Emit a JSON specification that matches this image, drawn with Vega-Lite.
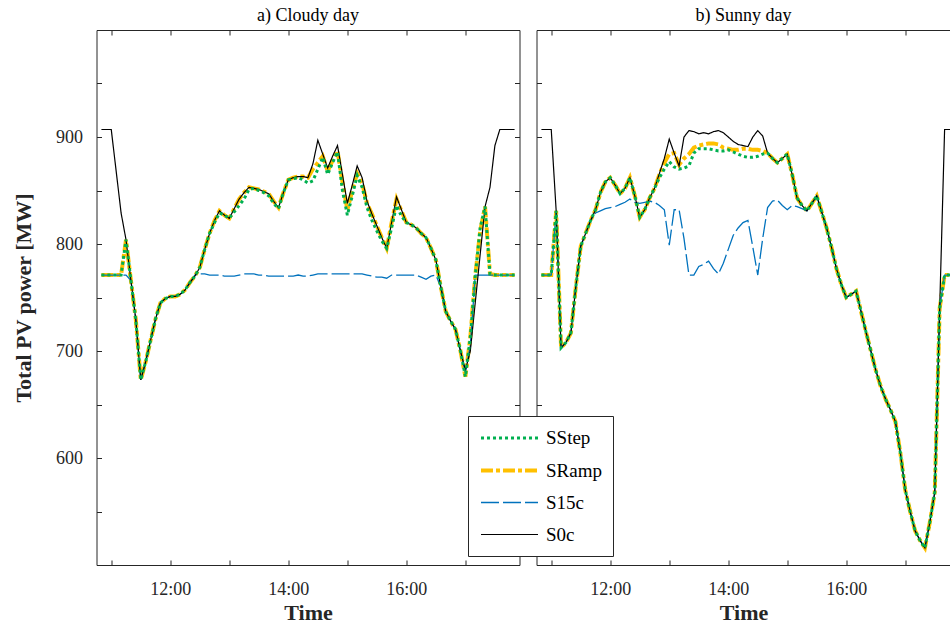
{
  "$schema": "https://vega.github.io/schema/vega-lite/v6.json",
  "padding": {"left": 12.5, "top": 6, "right": 0, "bottom": 0},
  "config": {
    "font": "Liberation Serif",
    "view": {"stroke": null},
    "axis": {
      "grid": false,
      "domainColor": "#262626",
      "tickColor": "#262626",
      "labelColor": "#262626",
      "titleColor": "#262626",
      "labelFont": "Liberation Serif",
      "labelFontSize": 18,
      "titleFont": "Liberation Serif",
      "titleFontSize": 22,
      "titleFontWeight": "bold",
      "tickSize": 5,
      "tickWidth": 1,
      "domainWidth": 1
    },
    "title": {"font": "Liberation Serif", "fontSize": 18, "fontWeight": "normal", "color": "#000000"}
  },
  "data": {
    "format": {"parse": {"t": "date:'%H:%M'"}},
    "values": [
      {"d":"a","t":"10:50","SStep":771,"SRamp":771,"S15c":771,"S0c":907},
      {"d":"a","t":"10:55","SStep":771,"SRamp":771,"S15c":771,"S0c":907},
      {"d":"a","t":"11:00","SStep":771,"SRamp":771,"S15c":771,"S0c":907},
      {"d":"a","t":"11:05","SStep":771,"SRamp":771,"S15c":771,"S0c":868},
      {"d":"a","t":"11:10","SStep":771,"SRamp":771,"S15c":771,"S0c":829},
      {"d":"a","t":"11:15","SStep":804,"SRamp":804,"S15c":771,"S0c":804},
      {"d":"a","t":"11:20","SStep":766,"SRamp":766,"S15c":766,"S0c":766},
      {"d":"a","t":"11:25","SStep":729,"SRamp":729,"S15c":729,"S0c":729},
      {"d":"a","t":"11:30","SStep":673,"SRamp":673,"S15c":673,"S0c":673},
      {"d":"a","t":"11:35","SStep":690,"SRamp":690,"S15c":690,"S0c":690},
      {"d":"a","t":"11:40","SStep":710,"SRamp":710,"S15c":710,"S0c":710},
      {"d":"a","t":"11:45","SStep":730,"SRamp":730,"S15c":730,"S0c":730},
      {"d":"a","t":"11:50","SStep":745,"SRamp":745,"S15c":745,"S0c":745},
      {"d":"a","t":"11:55","SStep":749,"SRamp":749,"S15c":749,"S0c":749},
      {"d":"a","t":"12:00","SStep":751,"SRamp":751,"S15c":751,"S0c":751},
      {"d":"a","t":"12:05","SStep":751,"SRamp":751,"S15c":751,"S0c":751},
      {"d":"a","t":"12:10","SStep":753,"SRamp":753,"S15c":753,"S0c":753},
      {"d":"a","t":"12:15","SStep":757,"SRamp":757,"S15c":757,"S0c":757},
      {"d":"a","t":"12:20","SStep":764,"SRamp":764,"S15c":764,"S0c":764},
      {"d":"a","t":"12:25","SStep":770,"SRamp":770,"S15c":771,"S0c":770},
      {"d":"a","t":"12:30","SStep":778,"SRamp":778,"S15c":772,"S0c":778},
      {"d":"a","t":"12:35","SStep":795,"SRamp":795,"S15c":772,"S0c":795},
      {"d":"a","t":"12:40","SStep":810,"SRamp":810,"S15c":771,"S0c":810},
      {"d":"a","t":"12:45","SStep":820,"SRamp":822,"S15c":771,"S0c":822},
      {"d":"a","t":"12:50","SStep":829,"SRamp":831,"S15c":771,"S0c":831},
      {"d":"a","t":"12:55","SStep":827,"SRamp":827,"S15c":770,"S0c":827},
      {"d":"a","t":"13:00","SStep":824,"SRamp":824,"S15c":770,"S0c":824},
      {"d":"a","t":"13:05","SStep":830,"SRamp":833,"S15c":770,"S0c":833},
      {"d":"a","t":"13:10","SStep":836,"SRamp":842,"S15c":771,"S0c":842},
      {"d":"a","t":"13:15","SStep":842,"SRamp":848,"S15c":772,"S0c":848},
      {"d":"a","t":"13:20","SStep":851,"SRamp":853,"S15c":772,"S0c":853},
      {"d":"a","t":"13:25","SStep":852,"SRamp":852,"S15c":772,"S0c":852},
      {"d":"a","t":"13:30","SStep":850,"SRamp":851,"S15c":771,"S0c":851},
      {"d":"a","t":"13:35","SStep":848,"SRamp":849,"S15c":771,"S0c":849},
      {"d":"a","t":"13:40","SStep":845,"SRamp":847,"S15c":770,"S0c":847},
      {"d":"a","t":"13:45","SStep":838,"SRamp":840,"S15c":770,"S0c":840},
      {"d":"a","t":"13:50","SStep":833,"SRamp":834,"S15c":770,"S0c":834},
      {"d":"a","t":"13:55","SStep":848,"SRamp":848,"S15c":770,"S0c":848},
      {"d":"a","t":"14:00","SStep":860,"SRamp":860,"S15c":770,"S0c":860},
      {"d":"a","t":"14:05","SStep":861,"SRamp":862,"S15c":770,"S0c":862},
      {"d":"a","t":"14:10","SStep":862,"SRamp":863,"S15c":771,"S0c":863},
      {"d":"a","t":"14:15","SStep":860,"SRamp":863,"S15c":770,"S0c":863},
      {"d":"a","t":"14:20","SStep":857,"SRamp":862,"S15c":770,"S0c":862},
      {"d":"a","t":"14:25","SStep":859,"SRamp":870,"S15c":771,"S0c":875},
      {"d":"a","t":"14:30","SStep":870,"SRamp":876,"S15c":772,"S0c":897},
      {"d":"a","t":"14:35","SStep":881,"SRamp":882,"S15c":772,"S0c":884},
      {"d":"a","t":"14:40","SStep":865,"SRamp":868,"S15c":772,"S0c":871},
      {"d":"a","t":"14:45","SStep":876,"SRamp":878,"S15c":772,"S0c":882},
      {"d":"a","t":"14:50","SStep":886,"SRamp":887,"S15c":772,"S0c":892},
      {"d":"a","t":"14:55","SStep":850,"SRamp":858,"S15c":772,"S0c":865},
      {"d":"a","t":"15:00","SStep":827,"SRamp":832,"S15c":772,"S0c":838},
      {"d":"a","t":"15:05","SStep":845,"SRamp":850,"S15c":772,"S0c":855},
      {"d":"a","t":"15:10","SStep":864,"SRamp":866,"S15c":772,"S0c":873},
      {"d":"a","t":"15:15","SStep":853,"SRamp":857,"S15c":772,"S0c":862},
      {"d":"a","t":"15:20","SStep":834,"SRamp":838,"S15c":771,"S0c":840},
      {"d":"a","t":"15:25","SStep":822,"SRamp":828,"S15c":770,"S0c":828},
      {"d":"a","t":"15:30","SStep":812,"SRamp":817,"S15c":769,"S0c":817},
      {"d":"a","t":"15:35","SStep":803,"SRamp":806,"S15c":769,"S0c":806},
      {"d":"a","t":"15:40","SStep":796,"SRamp":796,"S15c":768,"S0c":796},
      {"d":"a","t":"15:45","SStep":815,"SRamp":820,"S15c":771,"S0c":820},
      {"d":"a","t":"15:50","SStep":836,"SRamp":842,"S15c":771,"S0c":844},
      {"d":"a","t":"15:55","SStep":826,"SRamp":831,"S15c":771,"S0c":832},
      {"d":"a","t":"16:00","SStep":820,"SRamp":820,"S15c":771,"S0c":820},
      {"d":"a","t":"16:05","SStep":818,"SRamp":818,"S15c":771,"S0c":818},
      {"d":"a","t":"16:10","SStep":815,"SRamp":815,"S15c":771,"S0c":815},
      {"d":"a","t":"16:15","SStep":810,"SRamp":810,"S15c":769,"S0c":810},
      {"d":"a","t":"16:20","SStep":806,"SRamp":806,"S15c":767,"S0c":806},
      {"d":"a","t":"16:25","SStep":796,"SRamp":796,"S15c":770,"S0c":796},
      {"d":"a","t":"16:30","SStep":785,"SRamp":785,"S15c":771,"S0c":785},
      {"d":"a","t":"16:35","SStep":760,"SRamp":760,"S15c":760,"S0c":760},
      {"d":"a","t":"16:40","SStep":737,"SRamp":737,"S15c":737,"S0c":737},
      {"d":"a","t":"16:45","SStep":728,"SRamp":728,"S15c":728,"S0c":728},
      {"d":"a","t":"16:50","SStep":720,"SRamp":720,"S15c":720,"S0c":720},
      {"d":"a","t":"16:55","SStep":700,"SRamp":700,"S15c":700,"S0c":700},
      {"d":"a","t":"17:00","SStep":676,"SRamp":676,"S15c":680,"S0c":682},
      {"d":"a","t":"17:05","SStep":713,"SRamp":713,"S15c":705,"S0c":700},
      {"d":"a","t":"17:10","SStep":770,"SRamp":770,"S15c":771,"S0c":745},
      {"d":"a","t":"17:15","SStep":815,"SRamp":812,"S15c":771,"S0c":790},
      {"d":"a","t":"17:20","SStep":835,"SRamp":835,"S15c":771,"S0c":835},
      {"d":"a","t":"17:25","SStep":772,"SRamp":772,"S15c":771,"S0c":853},
      {"d":"a","t":"17:30","SStep":771,"SRamp":771,"S15c":771,"S0c":892},
      {"d":"a","t":"17:35","SStep":771,"SRamp":771,"S15c":771,"S0c":907},
      {"d":"a","t":"17:40","SStep":771,"SRamp":771,"S15c":771,"S0c":907},
      {"d":"a","t":"17:45","SStep":771,"SRamp":771,"S15c":771,"S0c":907},
      {"d":"a","t":"17:50","SStep":771,"SRamp":771,"S15c":771,"S0c":907},
      {"d":"b","t":"10:50","SStep":771,"SRamp":771,"S15c":771,"S0c":907},
      {"d":"b","t":"10:55","SStep":771,"SRamp":771,"S15c":771,"S0c":907},
      {"d":"b","t":"11:00","SStep":771,"SRamp":771,"S15c":771,"S0c":907},
      {"d":"b","t":"11:05","SStep":831,"SRamp":831,"S15c":831,"S0c":831},
      {"d":"b","t":"11:10","SStep":703,"SRamp":703,"S15c":703,"S0c":703},
      {"d":"b","t":"11:15","SStep":708,"SRamp":708,"S15c":708,"S0c":708},
      {"d":"b","t":"11:20","SStep":717,"SRamp":717,"S15c":717,"S0c":717},
      {"d":"b","t":"11:25","SStep":760,"SRamp":760,"S15c":760,"S0c":760},
      {"d":"b","t":"11:30","SStep":798,"SRamp":798,"S15c":798,"S0c":798},
      {"d":"b","t":"11:35","SStep":810,"SRamp":810,"S15c":810,"S0c":810},
      {"d":"b","t":"11:40","SStep":822,"SRamp":822,"S15c":822,"S0c":822},
      {"d":"b","t":"11:45","SStep":832,"SRamp":832,"S15c":829,"S0c":832},
      {"d":"b","t":"11:50","SStep":848,"SRamp":848,"S15c":831,"S0c":848},
      {"d":"b","t":"11:55","SStep":858,"SRamp":858,"S15c":833,"S0c":858},
      {"d":"b","t":"12:00","SStep":862,"SRamp":862,"S15c":834,"S0c":862},
      {"d":"b","t":"12:05","SStep":855,"SRamp":855,"S15c":835,"S0c":855},
      {"d":"b","t":"12:10","SStep":847,"SRamp":847,"S15c":837,"S0c":847},
      {"d":"b","t":"12:15","SStep":852,"SRamp":852,"S15c":839,"S0c":852},
      {"d":"b","t":"12:20","SStep":862,"SRamp":862,"S15c":842,"S0c":862},
      {"d":"b","t":"12:25","SStep":845,"SRamp":845,"S15c":839,"S0c":845},
      {"d":"b","t":"12:30","SStep":825,"SRamp":825,"S15c":838,"S0c":825},
      {"d":"b","t":"12:35","SStep":832,"SRamp":832,"S15c":839,"S0c":832},
      {"d":"b","t":"12:40","SStep":843,"SRamp":843,"S15c":840,"S0c":843},
      {"d":"b","t":"12:45","SStep":852,"SRamp":852,"S15c":839,"S0c":852},
      {"d":"b","t":"12:50","SStep":862,"SRamp":865,"S15c":836,"S0c":866},
      {"d":"b","t":"12:55","SStep":870,"SRamp":876,"S15c":832,"S0c":880},
      {"d":"b","t":"13:00","SStep":877,"SRamp":884,"S15c":799,"S0c":898},
      {"d":"b","t":"13:05","SStep":872,"SRamp":885,"S15c":832,"S0c":885},
      {"d":"b","t":"13:10","SStep":870,"SRamp":874,"S15c":832,"S0c":873},
      {"d":"b","t":"13:15","SStep":871,"SRamp":880,"S15c":805,"S0c":900},
      {"d":"b","t":"13:20","SStep":873,"SRamp":884,"S15c":771,"S0c":906},
      {"d":"b","t":"13:25","SStep":885,"SRamp":890,"S15c":771,"S0c":905},
      {"d":"b","t":"13:30","SStep":889,"SRamp":892,"S15c":779,"S0c":903},
      {"d":"b","t":"13:35","SStep":889,"SRamp":893,"S15c":781,"S0c":904},
      {"d":"b","t":"13:40","SStep":889,"SRamp":894,"S15c":784,"S0c":903},
      {"d":"b","t":"13:45","SStep":888,"SRamp":894,"S15c":777,"S0c":905},
      {"d":"b","t":"13:50","SStep":887,"SRamp":893,"S15c":772,"S0c":906},
      {"d":"b","t":"13:55","SStep":887,"SRamp":890,"S15c":782,"S0c":904},
      {"d":"b","t":"14:00","SStep":888,"SRamp":889,"S15c":795,"S0c":900},
      {"d":"b","t":"14:05","SStep":886,"SRamp":888,"S15c":808,"S0c":896},
      {"d":"b","t":"14:10","SStep":884,"SRamp":888,"S15c":815,"S0c":893},
      {"d":"b","t":"14:15","SStep":882,"SRamp":889,"S15c":820,"S0c":892},
      {"d":"b","t":"14:20","SStep":881,"SRamp":889,"S15c":822,"S0c":891},
      {"d":"b","t":"14:25","SStep":881,"SRamp":888,"S15c":797,"S0c":900},
      {"d":"b","t":"14:30","SStep":882,"SRamp":888,"S15c":771,"S0c":906},
      {"d":"b","t":"14:35","SStep":884,"SRamp":887,"S15c":805,"S0c":901},
      {"d":"b","t":"14:40","SStep":885,"SRamp":885,"S15c":834,"S0c":885},
      {"d":"b","t":"14:45","SStep":880,"SRamp":880,"S15c":840,"S0c":880},
      {"d":"b","t":"14:50","SStep":876,"SRamp":876,"S15c":841,"S0c":876},
      {"d":"b","t":"14:55","SStep":880,"SRamp":880,"S15c":836,"S0c":880},
      {"d":"b","t":"15:00","SStep":884,"SRamp":884,"S15c":832,"S0c":884},
      {"d":"b","t":"15:05","SStep":865,"SRamp":865,"S15c":836,"S0c":865},
      {"d":"b","t":"15:10","SStep":843,"SRamp":843,"S15c":835,"S0c":843},
      {"d":"b","t":"15:15","SStep":836,"SRamp":836,"S15c":833,"S0c":836},
      {"d":"b","t":"15:20","SStep":831,"SRamp":831,"S15c":831,"S0c":831},
      {"d":"b","t":"15:25","SStep":838,"SRamp":838,"S15c":838,"S0c":838},
      {"d":"b","t":"15:30","SStep":845,"SRamp":845,"S15c":845,"S0c":845},
      {"d":"b","t":"15:35","SStep":830,"SRamp":830,"S15c":830,"S0c":830},
      {"d":"b","t":"15:40","SStep":815,"SRamp":815,"S15c":815,"S0c":815},
      {"d":"b","t":"15:45","SStep":797,"SRamp":797,"S15c":797,"S0c":797},
      {"d":"b","t":"15:50","SStep":777,"SRamp":777,"S15c":777,"S0c":777},
      {"d":"b","t":"15:55","SStep":762,"SRamp":762,"S15c":762,"S0c":762},
      {"d":"b","t":"16:00","SStep":750,"SRamp":750,"S15c":750,"S0c":750},
      {"d":"b","t":"16:05","SStep":753,"SRamp":753,"S15c":753,"S0c":753},
      {"d":"b","t":"16:10","SStep":756,"SRamp":756,"S15c":756,"S0c":756},
      {"d":"b","t":"16:15","SStep":737,"SRamp":737,"S15c":737,"S0c":737},
      {"d":"b","t":"16:20","SStep":718,"SRamp":718,"S15c":718,"S0c":718},
      {"d":"b","t":"16:25","SStep":700,"SRamp":700,"S15c":700,"S0c":700},
      {"d":"b","t":"16:30","SStep":682,"SRamp":682,"S15c":682,"S0c":682},
      {"d":"b","t":"16:35","SStep":667,"SRamp":667,"S15c":667,"S0c":667},
      {"d":"b","t":"16:40","SStep":655,"SRamp":655,"S15c":655,"S0c":655},
      {"d":"b","t":"16:45","SStep":645,"SRamp":645,"S15c":645,"S0c":645},
      {"d":"b","t":"16:50","SStep":634,"SRamp":634,"S15c":634,"S0c":634},
      {"d":"b","t":"16:55","SStep":605,"SRamp":605,"S15c":605,"S0c":605},
      {"d":"b","t":"17:00","SStep":570,"SRamp":570,"S15c":570,"S0c":570},
      {"d":"b","t":"17:05","SStep":550,"SRamp":550,"S15c":550,"S0c":550},
      {"d":"b","t":"17:10","SStep":532,"SRamp":532,"S15c":532,"S0c":532},
      {"d":"b","t":"17:15","SStep":523,"SRamp":523,"S15c":523,"S0c":523},
      {"d":"b","t":"17:20","SStep":516,"SRamp":516,"S15c":516,"S0c":516},
      {"d":"b","t":"17:25","SStep":540,"SRamp":540,"S15c":540,"S0c":540},
      {"d":"b","t":"17:30","SStep":568,"SRamp":568,"S15c":568,"S0c":568},
      {"d":"b","t":"17:35","SStep":740,"SRamp":740,"S15c":740,"S0c":740},
      {"d":"b","t":"17:40","SStep":771,"SRamp":771,"S15c":771,"S0c":907},
      {"d":"b","t":"17:45","SStep":771,"SRamp":771,"S15c":771,"S0c":907},
      {"d":"b","t":"17:50","SStep":771,"SRamp":771,"S15c":771,"S0c":907}
    ]
  },
  "spacing": 15,
  "resolve": {"scale": {"color": "shared", "strokeDash": "shared", "strokeWidth": "shared"}},
  "hconcat": [
    {
      "width": 423,
      "height": 535,
      "title": {"text": "a) Cloudy day", "offset": 5},
      "transform": [
        {"filter": "datum.d == 'a'"},
        {"fold": ["SRamp", "S15c", "S0c", "SStep"], "as": ["series", "MW"]}
      ],
      "layer": [
        {
          "mark": {"type": "line", "clip": true, "strokeCap": "butt"},
          "encoding": {
            "x": {"field": "t", "type": "temporal",
              "scale": {"domain": [{"year": 1900, "month": 1, "date": 1, "hours": 10, "minutes": 45}, {"year": 1900, "month": 1, "date": 1, "hours": 17, "minutes": 55}]},
              "axis": {"orient": "bottom", "title": "Time", "ticks": false, "values": [{"year": 1900, "month": 1, "date": 1, "hours": 12}, {"year": 1900, "month": 1, "date": 1, "hours": 14}, {"year": 1900, "month": 1, "date": 1, "hours": 16}], "format": "%H:%M", "labelPadding": 15, "titlePadding": 4, "labelFlush": false}},
            "y": {"field": "MW", "type": "quantitative",
              "scale": {"domain": [500, 1000], "nice": false, "zero": false},
              "axis": {"orient": "left", "title": "Total PV power [MW]", "ticks": false, "values": [600, 700, 800, 900], "labelPadding": 14, "titlePadding": 20}},
            "color": {"field": "series", "type": "nominal",
              "scale": {"domain": ["SStep", "SRamp", "S15c", "S0c"], "range": ["#00B050", "#FFC000", "#0072BD", "#000000"]},
              "legend": {"title": null, "orient": "none", "legendX": 371.5, "legendY": 386, "symbolType": "M-1,0H5", "symbolSize": 361, "labelFontSize": 19, "labelFont": "Liberation Serif", "labelColor": "#000000", "strokeColor": "#262626", "fillColor": "#ffffff", "padding": 11, "rowPadding": 11, "labelOffset": 44}},
            "strokeDash": {"field": "series", "type": "nominal",
              "scale": {"domain": ["SStep", "SRamp", "S15c", "S0c"], "range": [[3, 3], [12, 3, 4, 3], [18, 4], [1, 0]]}},
            "strokeWidth": {"field": "series", "type": "nominal",
              "scale": {"type": "ordinal", "domain": ["SStep", "SRamp", "S15c", "S0c"], "range": [3, 4, 1.3, 1.2]}}
          }
        },
        {
          "mark": {"type": "line", "opacity": 0},
          "encoding": {
            "x": {"field": "t", "type": "temporal",
              "axis": {"orient": "top", "offset": -535, "title": null, "labels": false, "domain": false, "values": [{"year": 1900, "month": 1, "date": 1, "hours": 11}, {"year": 1900, "month": 1, "date": 1, "hours": 12}, {"year": 1900, "month": 1, "date": 1, "hours": 13}, {"year": 1900, "month": 1, "date": 1, "hours": 14}, {"year": 1900, "month": 1, "date": 1, "hours": 15}, {"year": 1900, "month": 1, "date": 1, "hours": 16}, {"year": 1900, "month": 1, "date": 1, "hours": 17}]}},
            "y": {"field": "MW", "type": "quantitative",
              "axis": {"orient": "right", "offset": -423, "title": null, "labels": false, "domain": false, "values": [550, 600, 650, 700, 750, 800, 850, 900, 950]}},
            "detail": {"field": "series"}
          }
        },
        {
          "mark": {"type": "line", "opacity": 0},
          "encoding": {
            "x": {"field": "t", "type": "temporal",
              "axis": {"orient": "bottom", "offset": -535, "title": null, "labels": false, "values": [{"year": 1900, "month": 1, "date": 1, "hours": 11}, {"year": 1900, "month": 1, "date": 1, "hours": 12}, {"year": 1900, "month": 1, "date": 1, "hours": 13}, {"year": 1900, "month": 1, "date": 1, "hours": 14}, {"year": 1900, "month": 1, "date": 1, "hours": 15}, {"year": 1900, "month": 1, "date": 1, "hours": 16}, {"year": 1900, "month": 1, "date": 1, "hours": 17}]}},
            "y": {"field": "MW", "type": "quantitative",
              "axis": {"orient": "left", "offset": -423, "title": null, "labels": false, "values": [550, 600, 650, 700, 750, 800, 850, 900, 950]}},
            "detail": {"field": "series"}
          }
        }
      ],
      "resolve": {"axis": {"x": "independent", "y": "independent"}}
    },
    {
      "width": 414,
      "height": 535,
      "title": {"text": "b) Sunny day", "offset": 5},
      "transform": [
        {"filter": "datum.d == 'b'"},
        {"fold": ["SRamp", "S15c", "S0c", "SStep"], "as": ["series", "MW"]}
      ],
      "layer": [
        {
          "mark": {"type": "line", "clip": true, "strokeCap": "butt"},
          "encoding": {
            "x": {"field": "t", "type": "temporal",
              "scale": {"domain": [{"year": 1900, "month": 1, "date": 1, "hours": 10, "minutes": 45}, {"year": 1900, "month": 1, "date": 1, "hours": 17, "minutes": 46}]},
              "axis": {"orient": "bottom", "title": "Time", "ticks": false, "values": [{"year": 1900, "month": 1, "date": 1, "hours": 12}, {"year": 1900, "month": 1, "date": 1, "hours": 14}, {"year": 1900, "month": 1, "date": 1, "hours": 16}], "format": "%H:%M", "labelPadding": 15, "titlePadding": 4, "labelFlush": false}},
            "y": {"field": "MW", "type": "quantitative",
              "scale": {"domain": [500, 1000], "nice": false, "zero": false},
              "axis": {"orient": "left", "title": null, "labels": false, "ticks": false}},
            "color": {"field": "series", "type": "nominal",
              "scale": {"domain": ["SStep", "SRamp", "S15c", "S0c"], "range": ["#00B050", "#FFC000", "#0072BD", "#000000"]}},
            "strokeDash": {"field": "series", "type": "nominal",
              "scale": {"domain": ["SStep", "SRamp", "S15c", "S0c"], "range": [[3, 3], [12, 3, 4, 3], [18, 4], [1, 0]]}},
            "strokeWidth": {"field": "series", "type": "nominal",
              "scale": {"type": "ordinal", "domain": ["SStep", "SRamp", "S15c", "S0c"], "range": [3, 4, 1.3, 1.2]}}
          }
        },
        {
          "mark": {"type": "line", "opacity": 0},
          "encoding": {
            "x": {"field": "t", "type": "temporal",
              "axis": {"orient": "top", "offset": -535, "title": null, "labels": false, "domain": false, "values": [{"year": 1900, "month": 1, "date": 1, "hours": 11}, {"year": 1900, "month": 1, "date": 1, "hours": 12}, {"year": 1900, "month": 1, "date": 1, "hours": 13}, {"year": 1900, "month": 1, "date": 1, "hours": 14}, {"year": 1900, "month": 1, "date": 1, "hours": 15}, {"year": 1900, "month": 1, "date": 1, "hours": 16}, {"year": 1900, "month": 1, "date": 1, "hours": 17}]}},
            "y": {"field": "MW", "type": "quantitative",
              "axis": {"orient": "right", "offset": -414, "title": null, "labels": false, "domain": false, "values": [550, 600, 650, 700, 750, 800, 850, 900, 950]}},
            "detail": {"field": "series"}
          }
        },
        {
          "mark": {"type": "line", "opacity": 0},
          "encoding": {
            "x": {"field": "t", "type": "temporal",
              "axis": {"orient": "bottom", "offset": -535, "title": null, "labels": false, "values": [{"year": 1900, "month": 1, "date": 1, "hours": 11}, {"year": 1900, "month": 1, "date": 1, "hours": 12}, {"year": 1900, "month": 1, "date": 1, "hours": 13}, {"year": 1900, "month": 1, "date": 1, "hours": 14}, {"year": 1900, "month": 1, "date": 1, "hours": 15}, {"year": 1900, "month": 1, "date": 1, "hours": 16}, {"year": 1900, "month": 1, "date": 1, "hours": 17}]}},
            "y": {"field": "MW", "type": "quantitative", "axis": null},
            "detail": {"field": "series"}
          }
        }
      ],
      "resolve": {"axis": {"x": "independent", "y": "independent"}}
    }
  ]
}
